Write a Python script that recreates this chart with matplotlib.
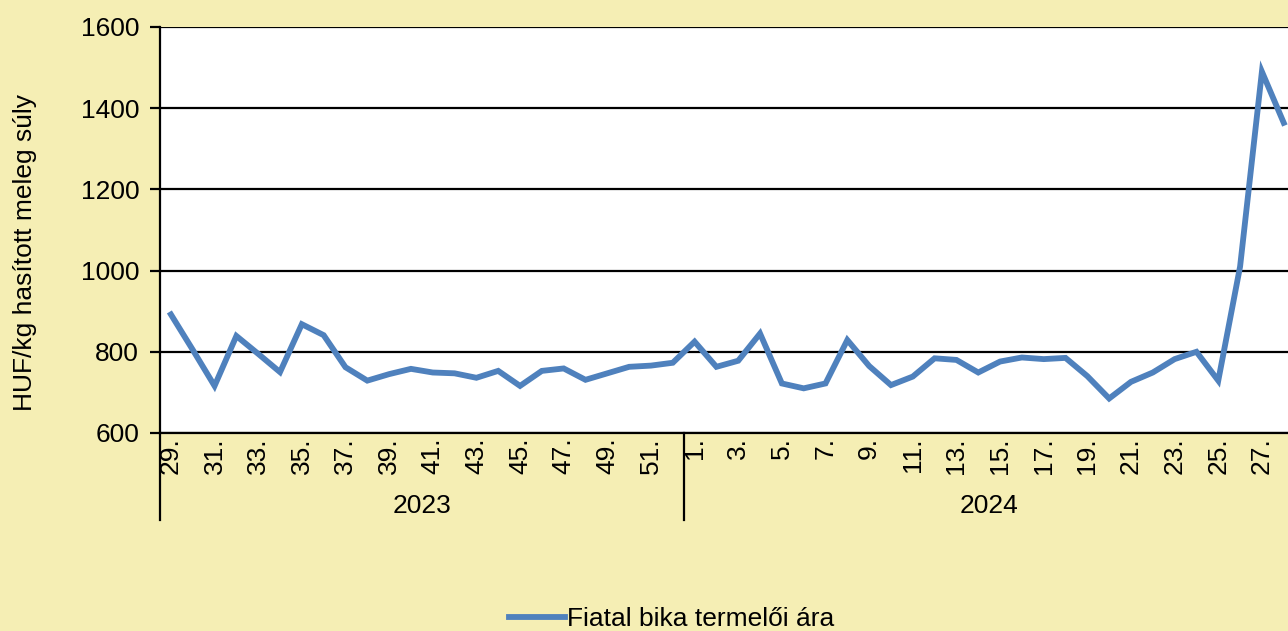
import matplotlib.pyplot as plt
from matplotlib.lines import Line2D
import numpy as np

# Data ###################################################################
weeks_2023 = list(range(29, 53))
weeks_2024 = list(range(1, 29))
years = ["2023", "2024"]
prices = [892, 805, 716, 839, 795, 750, 868, 841, 762, 729,
          745, 758, 749, 747, 736, 753, 716, 753, 759, 731,
          747, 763, 766, 773,
          825, 763, 778, 845, 722, 710, 722, 829, 765, 718,
          739, 784, 780, 749, 776, 786, 782, 785, 740, 685,
          726, 749, 782, 800, 729, 1010, 1490, 1364]
series_name = "Fiatal bika termelői ára"
y_label = "HUF/kg hasított meleg súly"

# Style ##################################################################
BG = "#F5EEB4"
LINE = "#4F81BD"
FONT = ["Liberation Sans", "DejaVu Sans"]
FS = 19
LW = 4.2
plt.rcParams['font.family'] = FONT

W, H = 1288, 631
fig = plt.figure(figsize=(W / 100, H / 100), dpi=100, facecolor=BG)

n = len(weeks_2023) + len(weeks_2024)
cat_w = 21.82
left, top, bottom = 160, 27, 433
right = left + cat_w * n
ax = fig.add_axes([left / W, 1 - bottom / H, (right - left) / W, (bottom - top) / H])
ax.set_facecolor("white")

x = np.arange(n)
ax.plot(x, prices, color=LINE, lw=LW, solid_joinstyle="miter", clip_on=False, zorder=3)

ax.set_xlim(-0.5, n - 0.5)
ax.set_ylim(600, 1600)
ax.set_yticks(np.arange(600, 1601, 200))
ax.yaxis.grid(True, color="black", lw=1.6)
ax.set_axisbelow(True)
for s in ["top", "right"]:
    ax.spines[s].set_visible(False)
ax.spines["left"].set_linewidth(1.6)
ax.spines["bottom"].set_linewidth(1.6)
ax.tick_params(axis="y", direction="out", length=7, width=1.6, labelsize=FS, pad=8)

labels = [f"{w}." for w in weeks_2023] + [f"{w}." for w in weeks_2024]
ax.set_xticks(x[::2])
ax.set_xticklabels(labels[::2], rotation=90, fontsize=FS, va="top")
ax.tick_params(axis="x", length=0, pad=3)

# group separators and year labels
sep_len = 87 / (bottom - top)
for xs in [-0.5, len(weeks_2023) - 0.5, n - 0.5]:
    ax.add_line(Line2D([xs, xs], [0, -sep_len], transform=ax.get_xaxis_transform(),
                       color="black", lw=1.6, clip_on=False))
centers = [(len(weeks_2023) - 1) / 2, len(weeks_2023) + (len(weeks_2024) - 1) / 2]
for c, yr in zip(centers, years):
    ax.text(c, -73 / (bottom - top), yr, transform=ax.get_xaxis_transform(),
            ha="center", va="center", fontsize=FS)

fig.text(25 / W, 1 - 253 / H, y_label, rotation=90, ha="center", va="center", fontsize=FS)

fig.legend([Line2D([], [], color=LINE, lw=LW)], [series_name], loc="center",
           bbox_to_anchor=(672 / W, 1 - 619 / H), frameon=False, fontsize=FS,
           handlelength=2.1, handletextpad=0.1)

fig.savefig("out.png", dpi=100, facecolor=BG)
